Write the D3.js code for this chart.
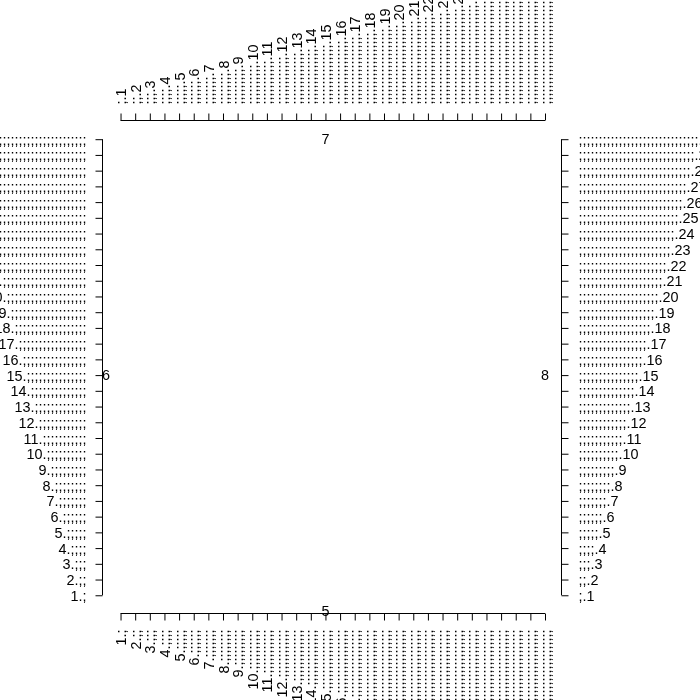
<!DOCTYPE html>
<html>
<head>
<meta charset="utf-8">
<script src="https://cdn.jsdelivr.net/npm/d3@7"></script>
<style>
  html, body { margin: 0; padding: 0; background: #fff; }
  svg { will-change: transform; }
  svg text { font-family: "Liberation Sans", Arial, Helvetica, sans-serif; }
</style>
</head>
<body>
<svg id="chart" width="700" height="700"></svg>
<script>
// tick positions shared by all four axes
const ticks = [1,2,3,4,5,6,7,8,9,10,11,12,13,14,15,16,17,18,19,20,21,22,23,24,25,26,27,28,29,30];
// label pieces
const sep = ";";
const dot = ".";
// bottom & left labels: "n." followed by n separators; top & right: n separators, then ".n"
const labelNumFirst = n => n + dot + sep.repeat(n);
const labelNumLast = n => sep.repeat(n) + dot + n;
// side annotations (text, x, y in data units)
const sideTexts = [
  {t: "5", x: 15, y: 0},
  {t: "6", x: 0,  y: 15},
  {t: "7", x: 15, y: 30},
  {t: "8", x: 30, y: 15}
];

const svg = d3.select("#chart");
const x = d3.scaleLinear().domain([0, 30]).range([105.9, 545]);
const y = d3.scaleLinear().domain([0, 30]).range([611, 139.2]);

const fontSize = 14.4;
const tickLen = 7;
const gap = 16;

function styleAxis(g) {
  g.selectAll("path.domain").attr("stroke", "#000").attr("stroke-width", 1);
  g.selectAll(".tick line").attr("stroke", "#000").attr("stroke-width", 1);
  g.selectAll("text").attr("fill", "#000").style("font-size", fontSize + "px");
}

// Bottom axis
const gB = svg.append("g").attr("transform", "translate(0,613.5)")
  .call(d3.axisBottom(x).tickValues(ticks).tickSize(tickLen).tickSizeOuter(0).tickFormat(labelNumFirst));
gB.select("path.domain").attr("d", `M${x(1)},0H${x(30)}`);
gB.selectAll("text").attr("transform", "rotate(-90)").attr("x", -gap).attr("y", 0)
  .attr("dy", "0.35em").attr("text-anchor", "end");
styleAxis(gB);

// Top axis
const gT = svg.append("g").attr("transform", "translate(0,120.5)")
  .call(d3.axisTop(x).tickValues(ticks).tickSize(tickLen).tickSizeOuter(0).tickFormat(labelNumLast));
gT.select("path.domain").attr("d", `M${x(1)},0H${x(30)}`);
gT.selectAll("text").attr("transform", "rotate(-90)").attr("x", gap).attr("y", 0)
  .attr("dy", "0.35em").attr("text-anchor", "start");
styleAxis(gT);

// Left axis
const gL = svg.append("g").attr("transform", "translate(102.5,0)")
  .call(d3.axisLeft(y).tickValues(ticks).tickSize(tickLen).tickSizeOuter(0).tickFormat(labelNumFirst));
gL.select("path.domain").attr("d", `M0,${y(1)}V${y(30)}`);
gL.selectAll("text").attr("x", -gap).attr("dy", "0.35em").attr("text-anchor", "end");
styleAxis(gL);

// Right axis
const gR = svg.append("g").attr("transform", "translate(561.5,0)")
  .call(d3.axisRight(y).tickValues(ticks).tickSize(tickLen).tickSizeOuter(0).tickFormat(labelNumLast));
gR.select("path.domain").attr("d", `M0,${y(1)}V${y(30)}`);
gR.selectAll("text").attr("x", gap + 1).attr("dy", "0.35em").attr("text-anchor", "start");
styleAxis(gR);

// Side annotations
svg.append("g").selectAll("text").data(sideTexts).join("text")
  .attr("x", d => x(d.x)).attr("y", d => y(d.y))
  .attr("dy", "0.36em")
  .attr("text-anchor", "middle")
  .style("font-size", fontSize + "px")
  .attr("fill", "#000")
  .text(d => d.t);
</script>
</body>
</html>
